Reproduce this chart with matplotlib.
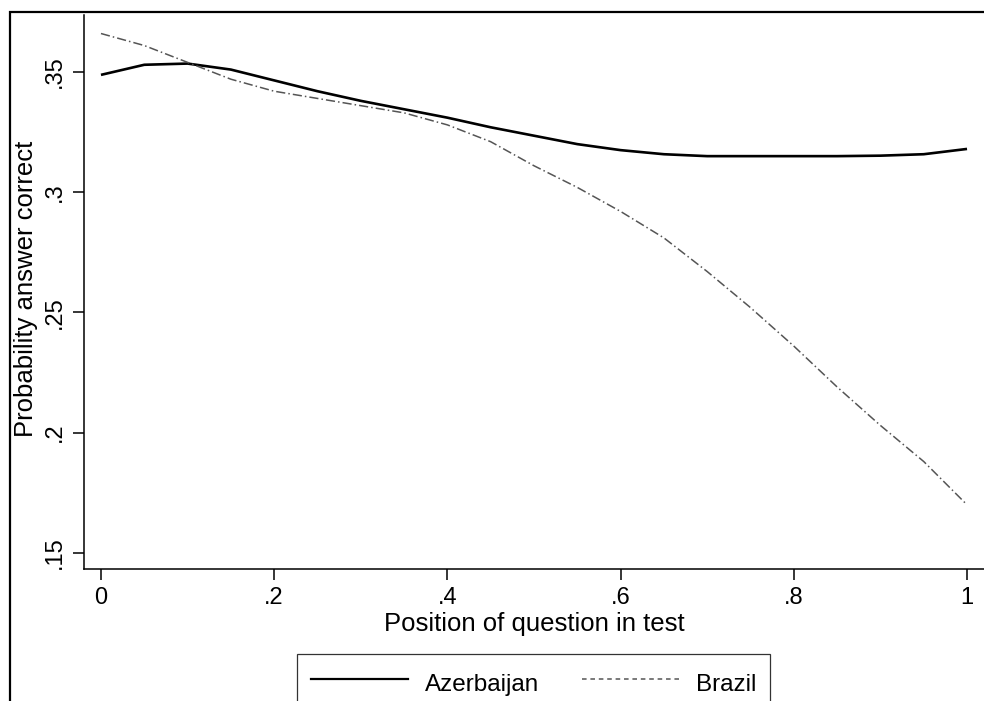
import matplotlib
matplotlib.use("Agg")
import matplotlib.pyplot as plt
from matplotlib.lines import Line2D
from matplotlib.patches import Rectangle

plt.rcParams["font.family"] = ["Liberation Sans", "DejaVu Sans"]

# position of question in test (share of test)
position = [0.0, 0.05, 0.1, 0.15, 0.2, 0.25, 0.3, 0.35, 0.4, 0.45, 0.5,
            0.55, 0.6, 0.65, 0.7, 0.75, 0.8, 0.85, 0.9, 0.95, 1.0]
azerbaijan = [0.3488, 0.3530, 0.3535, 0.3510, 0.3465, 0.3420, 0.3380, 0.3345,
              0.3310, 0.3270, 0.3235, 0.3200, 0.3175, 0.3158, 0.3150, 0.3150,
              0.3150, 0.3150, 0.3152, 0.3158, 0.3180]
brazil = [0.3660, 0.3610, 0.3540, 0.3470, 0.3420, 0.3390, 0.3360, 0.3330,
          0.3280, 0.3210, 0.3110, 0.3020, 0.2920, 0.2810, 0.2670, 0.2520,
          0.2360, 0.2190, 0.2030, 0.1880, 0.1700]

x_ticks = [0, 0.2, 0.4, 0.6, 0.8, 1.0]
x_tick_labels = ["0", ".2", ".4", ".6", ".8", "1"]
y_ticks = [0.15, 0.2, 0.25, 0.3, 0.35]
y_tick_labels = [".15", ".2", ".25", ".3", ".35"]

W, H = 984, 701
fig = plt.figure(figsize=(W / 100, H / 100), dpi=100)
ax = fig.add_axes([84 / W, 1 - 569 / H, 900 / W, 554 / H])

ax.plot(position, azerbaijan, color="black", lw=1.9, solid_capstyle="butt")
ax.plot(position, brazil, color="#555555", lw=1.1, dashes=(6, 2, 1, 2))

ax.set_xlim(-0.0196, 1.0196)
ax.set_ylim(0.1433, 0.3737)
ax.set_xticks(x_ticks)
ax.set_xticklabels(x_tick_labels)
ax.set_yticks(y_ticks)
ax.set_yticklabels(y_tick_labels, rotation=90, va="center")

for side in ["top", "right"]:
    ax.spines[side].set_visible(False)
for side in ["left", "bottom"]:
    ax.spines[side].set_linewidth(1.1)
ax.tick_params(length=8, width=1.1, labelsize=17, pad=5)

ax.set_xlabel("Position of question in test", fontsize=18.5, labelpad=2)
ax.set_ylabel("Probability answer correct", fontsize=18.5)
ax.yaxis.set_label_coords(-0.051, 0.505)

# legend box below the plot, cut by the figure edge
handles = [Line2D([], [], color="black", lw=1.6),
           Line2D([], [], color="#555555", lw=1.1, ls=(0, (3, 2.5)))]
leg = fig.legend(handles, ["Azerbaijan", "Brazil"], loc="upper center",
                 bbox_to_anchor=(533.5 / W, 1 - 654 / H), ncol=2,
                 fontsize=17.5, frameon=True, fancybox=False, shadow=False,
                 handlelength=4.0, handletextpad=0.7, columnspacing=1.75,
                 handleheight=1.6, borderpad=0.55, borderaxespad=0)
leg.get_frame().set_edgecolor("black")
leg.get_frame().set_linewidth(0.9)

# outer graph frame
fig.patches.append(Rectangle((10 / W, -0.1), 1.2, 1.1 - 12 / H,
                             transform=fig.transFigure, fill=False,
                             edgecolor="black", lw=1.6))

fig.savefig("out.png", dpi=100)
